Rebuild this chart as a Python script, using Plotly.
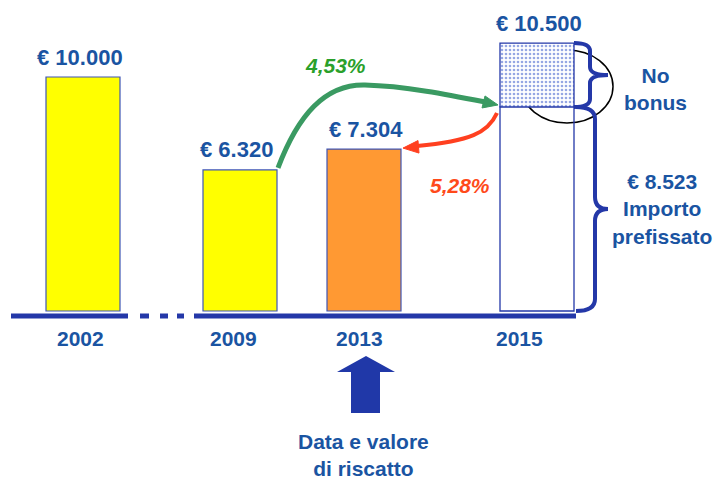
import plotly.graph_objects as go

# ---------------- data ----------------
years = ["2002", "2009", "2013", "2015"]
values = [10000, 6320, 7304, 10500]                      # euro values shown in labels
value_labels = ["€ 10.000", "€ 6.320", "€ 7.304", "€ 10.500"]
bar_heights = [10000, 6030, 6920, 11450]                 # heights as drawn (schematic, not to scale)
fixed_amount = 8523
fixed_label = "€ 8.523"
fixed_height = 8720                                      # drawn height of the "importo prefissato" part
growth_labels = ["4,53%", "5,28%"]
bonus_label = "No<br>bonus"
fixed_text = "Importo<br>prefissato"
redeem_text = "Data e valore<br>di riscatto"

# ---------------- layout helpers (positions in pixels) ----------------
W, H = 715, 479
BASE_PX = 311                 # pixel row of the bars' bottom
K = 10000 / 234               # value units per pixel
bar_x = [83, 240, 364, 537]
year_x = [80, 233, 359, 519]
label_dx = [-3, -4, 2, 2]
BAR_W = 74

def Y(p):                     # pixel row -> y value
    return (BASE_PX - p) * K

def P(v):                     # y value -> pixel row
    return BASE_PX - v / K

def path(cmds):
    out = []
    for cmd, pts in cmds:
        if cmd == "Z":
            out.append("Z")
        elif cmd in ("M", "L"):
            for x, y in pts:
                out.append(f"{cmd} {x:.2f},{Y(y):.2f}")
        else:
            out.append(cmd + " " + " ".join(f"{x:.2f},{Y(y):.2f}" for x, y in pts))
    return " ".join(out)

TXT = "#1A54A2"
LINE = "#2438A8"
EDGE = "#3F55B5"
FONT = "Liberation Sans, Arial, sans-serif"

fig = go.Figure()

# yellow/orange bars
fig.add_trace(go.Bar(
    x=bar_x[:3], y=bar_heights[:3], width=BAR_W,
    marker=dict(color=["#FFFF00", "#FFFF00", "#FF9933"], line=dict(color=EDGE, width=1.2)),
    hoverinfo="skip"))
# 2015 fixed part (transparent)
fig.add_trace(go.Bar(
    x=[bar_x[3]], y=[fixed_height], width=BAR_W,
    marker=dict(color="rgba(255,255,255,0)", line=dict(color=LINE, width=1.3)),
    hoverinfo="skip"))
# 2015 bonus part (dotted)
fig.add_trace(go.Bar(
    x=[bar_x[3]], y=[bar_heights[3] - fixed_height], base=[fixed_height], width=BAR_W,
    marker=dict(color="white", line=dict(color=LINE, width=1.3),
                pattern=dict(shape=".", fgcolor="#2E50C8", bgcolor="white", size=4, solidity=0.35)),
    hoverinfo="skip"))

shapes = []
# ellipse (behind bars)
shapes.append(dict(type="circle", layer="below", xref="x", yref="y",
                   x0=521, x1=613, y0=Y(123), y1=Y(50),
                   line=dict(color="black", width=1.5)))
# baseline
by = Y(316)
for x0, x1 in [(11, 128), (140, 149), (160, 168), (177, 184), (194, 576)]:
    shapes.append(dict(type="line", xref="x", yref="y", x0=x0, x1=x1, y0=by, y1=by,
                       line=dict(color=LINE, width=5)))

# green arrow 2009 -> 2015 split
sx, sy = bar_x[1] + BAR_W / 2 + 1, P(bar_heights[1]) - 2
tx, ty = bar_x[3] - BAR_W / 2 - 2, P(fixed_height) - 2
green = "#3A9A62"
shapes.append(dict(type="path", xref="x", yref="y",
                   path=path([("M", [(sx, sy)]),
                              ("C", [(298, 115), (325, 84), (365, 85)]),
                              ("C", [(405, 86), (450, 95), (tx - 13, ty - 3)])]),
                   line=dict(color=green, width=5)))
shapes.append(dict(type="path", xref="x", yref="y",
                   path=path([("M", [(tx, ty)]), ("L", [(tx - 16, ty + 3), (tx - 13, ty - 9)]), ("Z", [])]),
                   fillcolor=green, line=dict(color=green, width=1)))

# red arrow 2015 split -> 2013
red = "#FF4020"
rsx, rsy = bar_x[3] - BAR_W / 2 - 3, P(fixed_height) + 6
rtx, rty = bar_x[2] + BAR_W / 2 + 2, P(bar_heights[2]) - 1
shapes.append(dict(type="path", xref="x", yref="y",
                   path=path([("M", [(rsx, rsy)]),
                              ("C", [(488, 133), (470, 141), (rtx + 14, rty - 2)])]),
                   line=dict(color=red, width=4)))
shapes.append(dict(type="path", xref="x", yref="y",
                   path=path([("M", [(rtx, rty)]), ("L", [(rtx + 15, rty - 7.5), (rtx + 16, rty + 5)]), ("Z", [])]),
                   fillcolor=red, line=dict(color=red, width=1)))

# braces
def brace(x0, spine, tip, y0, y1, r):
    ym = (y0 + y1) / 2
    return path([("M", [(x0, y0)]),
                 ("Q", [(spine, y0), (spine, y0 + r)]),
                 ("L", [(spine, ym - r)]),
                 ("Q", [(spine, ym), (tip, ym)]),
                 ("Q", [(spine, ym), (spine, ym + r)]),
                 ("L", [(spine, y1 - r)]),
                 ("Q", [(spine, y1), (x0, y1)])])

shapes.append(dict(type="path", xref="x", yref="y",
                   path=brace(574, 590, 608, P(bar_heights[3]), P(fixed_height), 8),
                   line=dict(color=LINE, width=4)))
shapes.append(dict(type="path", xref="x", yref="y",
                   path=brace(576, 595, 608, P(fixed_height), P(0), 12),
                   line=dict(color=LINE, width=4)))

# big up arrow under 2013
ax = bar_x[2] + 2
shapes.append(dict(type="path", xref="x", yref="y",
                   path=path([("M", [(ax, 356)]),
                              ("L", [(ax + 29, 372), (ax + 14, 372), (ax + 14, 413),
                                     (ax - 15, 413), (ax - 15, 372), (ax - 29, 372)]),
                              ("Z", [])]),
                   fillcolor="#2038A8", line=dict(color="#2038A8", width=0)))

annotations = []
for x, dx, h, lab in zip(bar_x, label_dx, bar_heights, value_labels):
    annotations.append(dict(x=x + dx, y=h, yshift=20, text=f"<b>{lab}</b>", showarrow=False,
                            xanchor="center", yanchor="middle",
                            font=dict(family=FONT, size=22, color=TXT)))
for x, yr in zip(year_x, years):
    annotations.append(dict(x=x, y=Y(338), text=f"<b>{yr}</b>", showarrow=False,
                            xanchor="center", yanchor="middle",
                            font=dict(family=FONT, size=21, color=TXT)))
annotations.append(dict(x=335, y=Y(65), text=f"<b><i>{growth_labels[0]}</i></b>", showarrow=False,
                        font=dict(family=FONT, size=21, color="#2AA02A")))
annotations.append(dict(x=460, y=Y(185), text=f"<b><i>{growth_labels[1]}</i></b>", showarrow=False,
                        font=dict(family=FONT, size=21, color="#FF4A1A")))
annotations.append(dict(x=655, y=Y(88.5), text=f"<b>{bonus_label}</b>", showarrow=False,
                        font=dict(family=FONT, size=21, color=TXT)))
annotations.append(dict(x=662, y=Y(209), text=f"<b>{fixed_label}<br>{fixed_text}</b>", showarrow=False,
                        font=dict(family=FONT, size=21, color=TXT)))
annotations.append(dict(x=363, y=Y(455), text=f"<b>{redeem_text}</b>", showarrow=False,
                        font=dict(family=FONT, size=21, color=TXT)))

fig.update_layout(
    width=W, height=H, margin=dict(l=0, r=0, t=0, b=0),
    paper_bgcolor="white", plot_bgcolor="white",
    barmode="overlay", showlegend=False,
    xaxis=dict(range=[0, W], visible=False, fixedrange=True),
    yaxis=dict(range=[Y(H), Y(0)], visible=False, fixedrange=True),
    shapes=shapes, annotations=annotations,
)

fig.write_html("out.html", config={"displayModeBar": False},
               post_script="document.body.style.margin='0';document.body.style.overflow='hidden';")
